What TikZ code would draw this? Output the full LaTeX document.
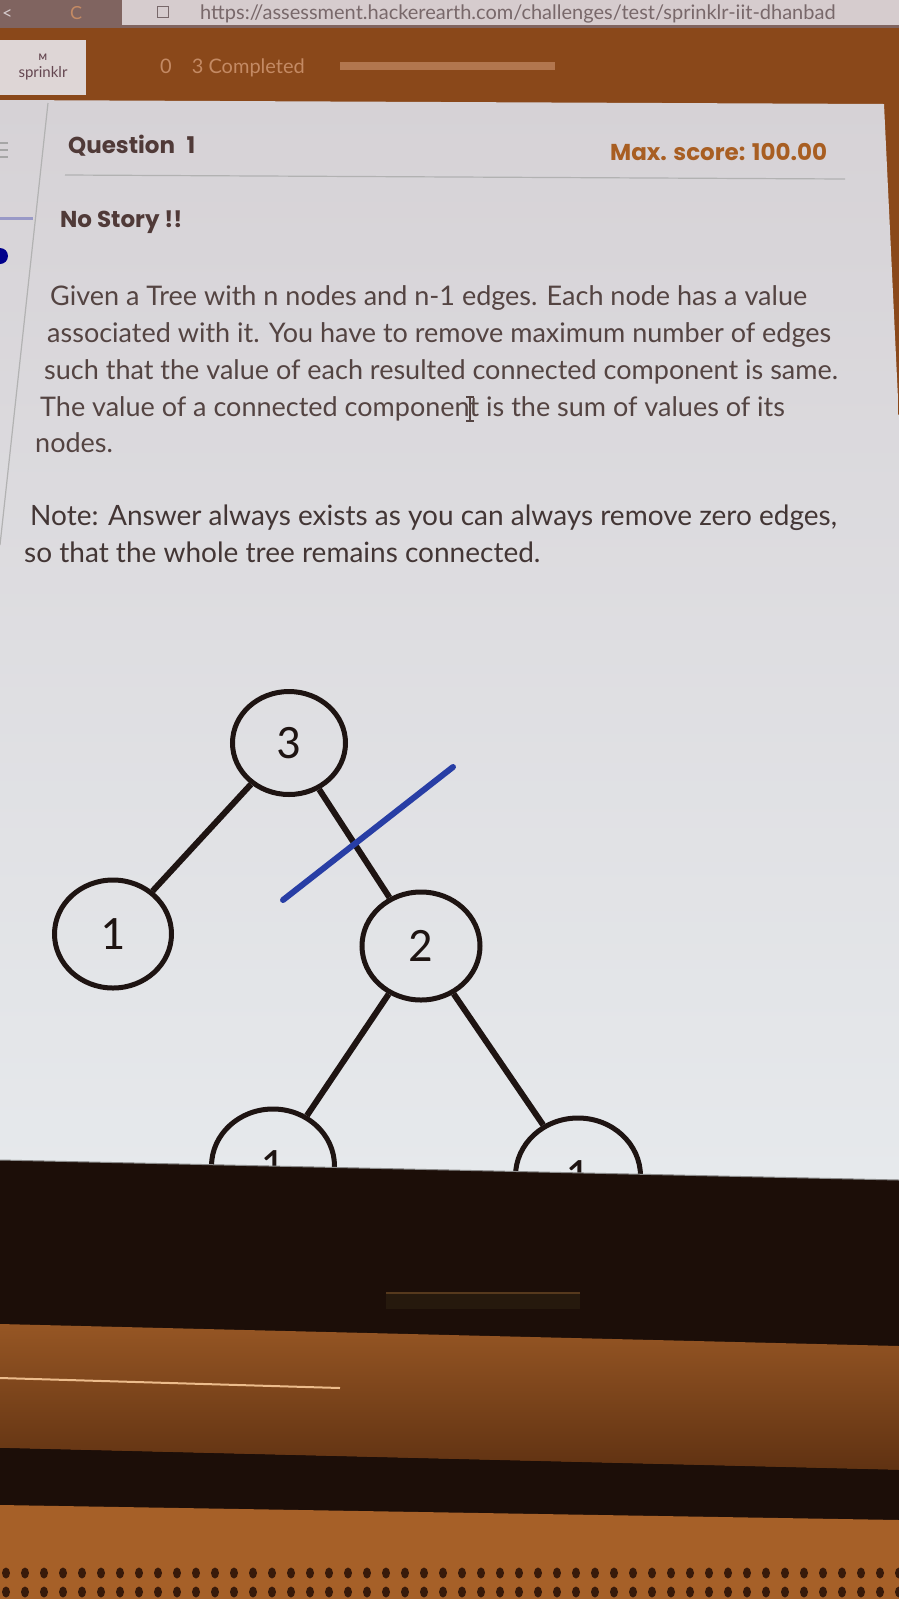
\documentclass[tikz,border=0pt]{standalone}
\usepackage{fontspec}
\setmainfont{Lato}
\newfontfamily\digitfont{Carlito}
\newfontfamily\headfont{Poppins}
\usepackage{xcolor}
\usetikzlibrary{shapes.geometric}

\definecolor{chrome}{RGB}{128,100,96}
\definecolor{urlfield}{RGB}{214,204,206}
\definecolor{urlink}{RGB}{120,104,106}
\definecolor{band}{RGB}{138,72,26}
\definecolor{fade}{RGB}{196,138,100}
\definecolor{logobg}{RGB}{222,214,214}
\definecolor{logoink}{RGB}{100,70,80}
\definecolor{screentop}{RGB}{214,210,214}
\definecolor{screenlow}{RGB}{230,233,236}
\definecolor{hdink}{RGB}{80,58,56}
\definecolor{score}{RGB}{168,94,34}
\definecolor{ink}{RGB}{84,68,66}
\definecolor{edgeink}{RGB}{30,20,18}
\definecolor{cutblue}{RGB}{40,62,165}
\definecolor{bezel}{RGB}{28,14,8}
\definecolor{lid}{RGB}{150,86,36}
\definecolor{lidlow}{RGB}{96,50,18}
\definecolor{shine}{RGB}{236,188,140}
\definecolor{base}{RGB}{166,96,40}
\definecolor{hole}{RGB}{56,26,10}

\tikzset{
  x=1pt,y=-1pt,
  vertex/.style={draw=edgeink,line width=5pt,ellipse,minimum width=113pt,minimum height=103pt,
    inner sep=0pt,text=edgeink,font=\digitfont\fontsize{48}{48}\selectfont},
  edge/.style={draw=edgeink,line width=6pt},
  cut/.style={draw=cutblue,line width=6pt,line cap=round},
  body/.style={anchor=base west,inner sep=0pt,text=ink,font=\fontsize{27}{27}\selectfont},
  head/.style={anchor=base west,inner sep=0pt,text=hdink,font=\headfont\bfseries\fontsize{23}{23}\selectfont},
}

\begin{document}
\begin{tikzpicture}
\useasboundingbox (0,0) rectangle (899,1599);
\fill [bezel] (0,0) rectangle (899,1599);
\fill [chrome] (0,0) rectangle (899,30);
\fill [urlfield] (122,0) rectangle (899,25);
\fill [band] (0,28) rectangle (899,440);
\fill [logobg] (0,40) rectangle (86,95);
\fill [fade!70!band] (340,62) rectangle (555,70);
\shade [top color=screentop,bottom color=screenlow]
    (0,100) -- (884,104) -- (899,420) -- (899,1180) -- (0,1160) -- cycle;
\draw [black!30,line width=1.2pt] (48,103) -- (0,545);
\path
    [anchor=base west,inner sep=0pt]
    (2,19) node [text=urlfield,font=\fontsize{18}{18}\selectfont] (back) {<}
    (70,19) node [text=fade,font=\fontsize{18}{18}\selectfont] (reload) {C}
    (200,19) node [text=urlink,font=\fontsize{20}{20}\selectfont] (url)
        {https://assessment.hackerearth.com/challenges/test/sprinklr-iit-dhanbad}
    (160,73) node [text=fade,font=\fontsize{20}{20}\selectfont] (done) {0\quad 3 Completed};
\node [draw=urlink,line width=1pt,minimum size=11pt,inner sep=0pt] (page) at (163,12) {};
\path
    [anchor=base,inner sep=0pt,text=logoink]
    (43,60) node [font=\bfseries\fontsize{9}{9}\selectfont] (logom) {M}
    (43,77) node [font=\fontsize{15}{15}\selectfont] (logo) {sprinklr};
\foreach \y in {143,150,157}
    \draw [black!35,line width=1.5pt] (0,\y) -- (8,\y);
\draw [black!55!blue!40,line width=3pt] (0,218) -- (33,218);
\fill [blue!55!black] (0,256) circle (8pt);
\path
    (68,153) node [head] (question) {Question\enspace 1}
    (610,160) node [head,text=score] (maxscore) {Max. score: 100.00}
    (60,227) node [head] (story) {No Story !!};
\draw [black!30,line width=1.2pt] (65,175) -- (845,179);
\path
    (50,305) node [body] (l1) {Given a Tree with n nodes and n-1 edges. Each node has a value}
    (47,342) node [body] (l2) {associated with it. You have to remove maximum number of edges}
    (44,379) node [body] (l3) {such that the value of each resulted connected component is same.}
    (40,416) node [body] (l4) {The value of a connected component is the sum of values of its}
    (35,452) node [body] (l5) {nodes.}
    (30,525) node [body,text=ink!80!black,font=\fontsize{28}{28}\selectfont] (note1) {Note: Answer always exists as you can always remove zero edges,}
    (24,562) node [body,text=ink!80!black,font=\fontsize{28}{28}\selectfont] (note2) {so that the whole tree remains connected.};
\draw [ink,line width=1.2pt] (466,397) -- (474,397) (470,397) -- (470,421) (466,421) -- (474,421);
\path
    (289,743) node [vertex] (top) {3}
    (113,934) node [vertex,minimum width=117pt,minimum height=108pt] (left) {1}
    (421,946) node [vertex,minimum width=118pt,minimum height=108pt] (mid) {2}
    (273,1166) node [vertex,minimum width=123pt,minimum height=114pt] (lowleft) {1}
    (578,1176) node [vertex,minimum width=125pt,minimum height=116pt] (lowright) {1};
\draw [edge] (top) -- (left);
\draw [edge] (top) -- (mid);
\draw [edge] (mid) -- (lowleft);
\draw [edge] (mid) -- (lowright);
\coordinate (cutstart) at (283,900);
\coordinate (cutend) at (453,767);
\draw [cut] (cutstart) -- (cutend);
\fill [bezel] (0,1160) -- (899,1180) -- (899,1346) -- (0,1324) -- cycle;
\draw [black!45,line width=1pt] (0,1160) -- (899,1180);
\fill [black!80!brown] (386,1293) rectangle (580,1309);
\draw [black!55!brown,line width=1.2pt] (386,1293) -- (580,1293);
\shade [top color=lid,bottom color=lidlow] (0,1324) -- (899,1346) -- (899,1470) -- (0,1448) -- cycle;
\draw [shine,line width=2pt] (0,1378) -- (340,1388);
\fill [bezel] (0,1448) -- (899,1470) -- (899,1520) -- (0,1505) -- cycle;
\fill [base] (0,1505) -- (899,1520) -- (899,1599) -- (0,1599) -- cycle;
\foreach \x in {6,25,...,899} {
    \fill [hole] (\x,1573) ellipse (4pt and 5.5pt);
    \fill [hole] (\x,1592) ellipse (4pt and 5.5pt);
}
\end{tikzpicture}
\end{document}
